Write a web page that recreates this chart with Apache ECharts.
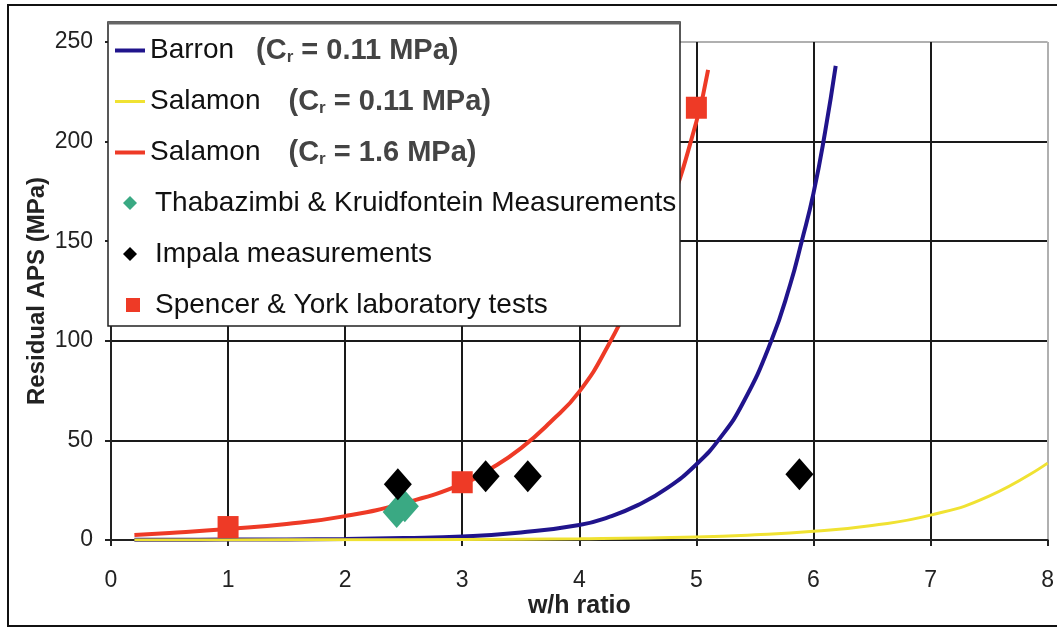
<!DOCTYPE html>
<html><head><meta charset="utf-8">
<script src="https://cdn.jsdelivr.net/npm/echarts@6/dist/echarts.min.js"></script>
<style>html,body{margin:0;padding:0;background:#fff}#c{width:1057px;height:629px}</style>
</head><body><div id="c"></div>
<script>
// ---- data ----
const xTickLabels = ['0','1','2','3','4','5','6','7','8'];
const yTickLabels = ['0','50','100','150','200','250'];

const barronX = [0.2, 0.5, 1, 1.5, 2, 2.5, 3, 3.5, 4, 4.25, 4.5, 4.75, 5, 5.2, 5.4, 5.64, 5.8, 5.9, 6, 6.1, 6.19];
const barronY = [0.1, 0.15, 0.2, 0.3, 0.5, 1, 1.8, 3.8, 7.5, 11.5, 17.5, 26, 38, 51, 69, 100, 128, 150, 174, 205, 238];

const salamonLowX = [0.2, 1, 2, 3, 4, 5, 5.5, 6, 6.5, 7, 7.5, 8];
const salamonLowY = [0, 0.05, 0.1, 0.3, 0.6, 1.5, 2.6, 4.4, 7.3, 12.5, 22, 38.6];

const salamonHighX = [0.2, 0.5, 1, 1.5, 2, 2.5, 3, 3.25, 3.5, 3.75, 4, 4.25, 4.5, 4.75, 5, 5.1];
const salamonHighY = [2.5, 3.5, 5.5, 8, 12, 18.5, 28, 36, 46, 59, 74.5, 98, 128, 163, 210, 236];

const thabX = [2.44, 2.51];
const thabY = [14, 17];

const impalaX = [2.45, 3.2, 3.56, 5.88];
const impalaY = [28, 32, 32, 33];

const spencerX = [1, 3, 5];
const spencerY = [6.5, 29, 217];

const seriesNames = [
  'Barron (Cr = 0.11 MPa)',
  'Salamon (Cr = 0.11 MPa)',
  'Salamon (Cr = 1.6 MPa)',
  'Thabazimbi & Kruidfontein Measurements',
  'Impala measurements',
  'Spencer & York laboratory tests'
];

const zip = (xs, ys) => xs.map((x, i) => [x, ys[i]]);
const FONT = 'Liberation Sans, Arial, sans-serif';

const legendLabels = {
  'Barron (Cr = 0.11 MPa)': '{n|Barron}{g1| }{b|(C}{s|r}{b| = 0.11 MPa)}',
  'Salamon (Cr = 0.11 MPa)': '{n|Salamon}{g2| }{b|(C}{s|r}{b| = 0.11 MPa)}',
  'Salamon (Cr = 1.6 MPa)': '{n|Salamon}{g2| }{b|(C}{s|r}{b| = 1.6 MPa)}',
  'Thabazimbi & Kruidfontein Measurements': '{p1| }{n|Thabazimbi & Kruidfontein Measurements}',
  'Impala measurements': '{p1| }{n|Impala measurements}',
  'Spencer & York laboratory tests': '{p2| }{n|Spencer & York laboratory tests}'
};

const LINE_ICON = 'path://M0,0 L30,0 L30,4 L0,4 Z';
const THIN_LINE_ICON = 'path://M0,0 L30,0 L30,3 L0,3 Z';
const DIAMOND_ICON = 'path://M7,0 L14,7 L7,14 L0,7 Z';
const SQUARE_ICON = 'path://M0,0 L16,0 L16,16 L0,16 Z';
const legendIcons = [LINE_ICON, THIN_LINE_ICON, LINE_ICON, DIAMOND_ICON, DIAMOND_ICON, SQUARE_ICON];
const legendRowCenters = [48, 99, 150, 201, 252, 303];
const legendLefts = [115, 115, 115, 123, 123, 126];

const richStyles = {
  n: {fontFamily: FONT, fontSize: 28, color: '#111', lineHeight: 30},
  b: {fontFamily: FONT, fontSize: 29, fontWeight: 'bold', color: '#444', lineHeight: 30},
  s: {fontFamily: FONT, fontSize: 17, fontWeight: 'bold', color: '#444', lineHeight: 18, verticalAlign: 'bottom'},
  g1: {width: 22, lineHeight: 30},
  g2: {width: 28, lineHeight: 30},
  p1: {width: 5, lineHeight: 30},
  p2: {width: 2, lineHeight: 30}
};

const legends = seriesNames.map((name, i) => ({
  orient: 'vertical', left: legendLefts[i], top: legendRowCenters[i] - 12, padding: 0, z: 20,
  itemWidth: 30, itemHeight: 14, symbolKeepAspect: true,
  data: [{name: name, icon: legendIcons[i]}],
  selectedMode: false,
  formatter: n => legendLabels[n],
  textStyle: {fontFamily: FONT, rich: richStyles}
}));

const chart = echarts.init(document.getElementById('c'), null, {renderer: 'canvas'});
const gridLineColorsY = ['#1a1a1a','#1a1a1a','#1a1a1a','#1a1a1a','#1a1a1a','#b0b0b0'];
const gridLineColorsX = ['#1a1a1a','#1a1a1a','#1a1a1a','#1a1a1a','#1a1a1a','#1a1a1a','#1a1a1a','#1a1a1a','#b0b0b0'];

chart.setOption({
  animation: false,
  backgroundColor: '#ffffff',
  grid: {left: 111, right: 9, top: 42, bottom: 89, containLabel: false},
  xAxis: {
    type: 'value', min: 0, max: 8, interval: 1,
    name: 'w/h ratio', nameLocation: 'middle', nameGap: 54, nameMoveOverlap: false,
    nameTextStyle: {fontFamily: FONT, fontSize: 25, fontWeight: 'bold', color: '#222'},
    axisLine: {show: true, onZero: false, lineStyle: {color: '#222', width: 2}},
    axisTick: {show: true, length: 6, lineStyle: {color: '#222', width: 2}},
    axisLabel: {margin: 29, fontFamily: FONT, fontSize: 23, color: '#222',
      formatter: v => xTickLabels[Math.round(v)]},
    splitLine: {show: true, lineStyle: {color: gridLineColorsX, width: 2}}
  },
  yAxis: {
    type: 'value', min: 0, max: 250, interval: 50,
    name: 'Residual APS (MPa)', nameLocation: 'middle', nameGap: 62, nameRotate: 90, nameMoveOverlap: false,
    nameTextStyle: {fontFamily: FONT, fontSize: 24, fontWeight: 'bold', color: '#222'},
    axisLine: {show: true, onZero: false, lineStyle: {color: '#222', width: 2}},
    axisTick: {show: true, length: 6, lineStyle: {color: '#222', width: 2}},
    axisLabel: {margin: 18, fontFamily: FONT, fontSize: 23, color: '#222',
      formatter: v => yTickLabels[Math.round(v / 50)]},
    splitLine: {show: true, lineStyle: {color: gridLineColorsY, width: 2}}
  },
  legend: legends,
  graphic: [
    {type: 'rect', z: 1, shape: {x: 8, y: 5, width: 1060, height: 621},
      style: {fill: 'none', stroke: '#111', lineWidth: 2}},
    {type: 'rect', z: 10, shape: {x: 108, y: 22, width: 572, height: 304},
      style: {fill: '#ffffff', stroke: '#222', lineWidth: 1.5}},
    {type: 'line', z: 11, shape: {x1: 108, y1: 23, x2: 680, y2: 23},
      style: {stroke: '#666', lineWidth: 3}}
  ],
  series: [
    {name: seriesNames[0], type: 'line', data: zip(barronX, barronY), showSymbol: false, symbol: 'none',
      smooth: 0.5, lineStyle: {color: '#20148c', width: 4}, itemStyle: {color: '#20148c'}, z: 2},
    {name: seriesNames[1], type: 'line', data: zip(salamonLowX, salamonLowY), showSymbol: false, symbol: 'none',
      smooth: 0.5, lineStyle: {color: '#f0e232', width: 3}, itemStyle: {color: '#f0e232'}, z: 2},
    {name: seriesNames[2], type: 'line', data: zip(salamonHighX, salamonHighY), showSymbol: false, symbol: 'none',
      smooth: 0.5, lineStyle: {color: '#ee3a26', width: 4}, itemStyle: {color: '#ee3a26'}, z: 2},
    {name: seriesNames[3], type: 'scatter', data: zip(thabX, thabY), symbol: 'diamond', symbolSize: [28, 32],
      itemStyle: {color: '#3aa983', opacity: 1}, z: 3},
    {name: seriesNames[4], type: 'scatter', data: zip(impalaX, impalaY), symbol: 'diamond', symbolSize: [28, 32],
      itemStyle: {color: '#000000', opacity: 1}, z: 4},
    {name: seriesNames[5], type: 'scatter', data: zip(spencerX, spencerY), symbol: 'rect', symbolSize: [21, 22],
      itemStyle: {color: '#ee3a26', opacity: 1}, z: 5}
  ]
});
</script>
</body></html>
